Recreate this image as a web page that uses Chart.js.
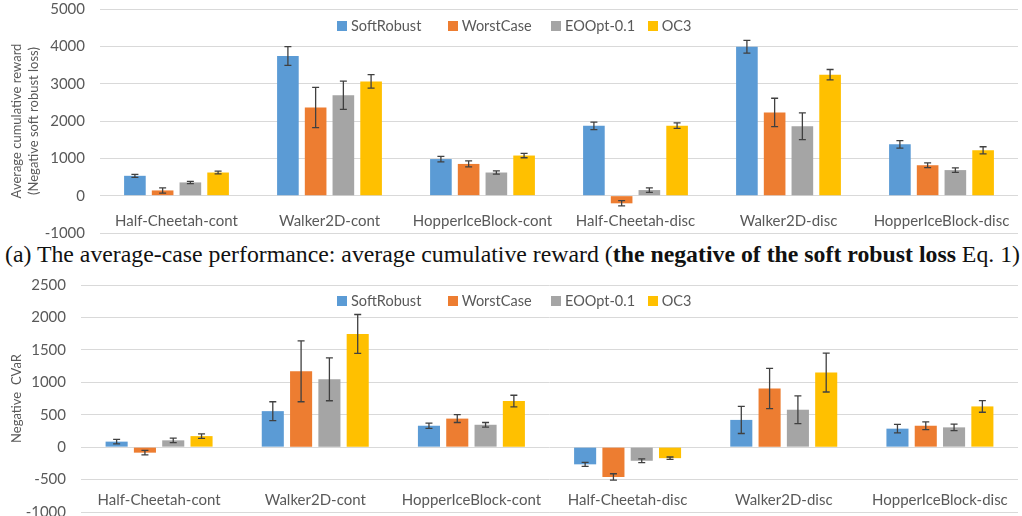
<!DOCTYPE html>
<html>
<head>
<meta charset="utf-8">
<script src="https://cdn.jsdelivr.net/npm/chart.js@4.4.1/dist/chart.umd.min.js"></script>
<style>
  body { margin: 0; background: #fff; width: 1022px; height: 516px; overflow: hidden; position: relative; }
  .wrap { position: absolute; left: 0; width: 1022px; z-index: 2; }
  #wrapTop { top: -15px; height: 272px; }
  #wrapBot { top: 261px; height: 275px; }
  .legend { position: absolute; left: 337px; display: flex; align-items: center; z-index: 3;
            font-family: Lato, sans-serif; font-size: 14.5px; color: #595959; white-space: nowrap; }
  .legend span.sw { display: inline-block; width: 10px; height: 10px; margin-right: 4px; }
  .legend span.it { display: flex; align-items: center; }
  #legTop { top: 17px; }
  #legBot { top: 292px; }
  #caption { position: absolute; left: 5px; top: 242px; z-index: 1; font-family: "Liberation Serif", serif;
             font-size: 24px; line-height: 24px; color: #111; white-space: nowrap; transform-origin: 0 0; }
</style>
</head>
<body>
<div id="caption">(a) The average-case performance: average cumulative reward (<b>the negative of the soft robust loss</b> Eq. 1)</div>
<div class="wrap" id="wrapTop"><canvas id="chartTop"></canvas></div>
<div class="wrap" id="wrapBot"><canvas id="chartBot"></canvas></div>
<div class="legend" id="legTop"></div>
<div class="legend" id="legBot"></div>
<script>
const categories = ['Half-Cheetah-cont', 'Walker2D-cont', 'HopperIceBlock-cont', 'Half-Cheetah-disc', 'Walker2D-disc', 'HopperIceBlock-disc'];
const seriesNames = ['SoftRobust', 'WorstCase', 'EOOpt-0.1', 'OC3'];
const seriesColors = ['#5B9BD5', '#ED7D31', '#A5A5A5', '#FFC000'];

// (a) average cumulative reward
const rewardSoftRobust = [532, 3740, 980, 1870, 3990, 1375];
const rewardWorstCase  = [140, 2360, 850, -205, 2230, 815];
const rewardEOOpt      = [355, 2690, 620, 150, 1860, 685];
const rewardOC3        = [620, 3060, 1075, 1875, 3240, 1215];
const rewardErrSoftRobust = [40, 250, 75, 100, 170, 100];
const rewardErrWorstCase  = [70, 540, 80, 70, 380, 65];
const rewardErrEOOpt      = [30, 380, 45, 60, 360, 60];
const rewardErrOC3        = [35, 180, 60, 75, 140, 95];

// negative CVaR
const cvarSoftRobust = [85, 555, 330, -265, 420, 285];
const cvarWorstCase  = [-85, 1170, 440, -460, 905, 330];
const cvarEOOpt      = [105, 1045, 345, -210, 577, 305];
const cvarOC3        = [170, 1745, 710, -170, 1150, 628];
const cvarErrSoftRobust = [35, 145, 40, 30, 210, 65];
const cvarErrWorstCase  = [35, 470, 60, 50, 310, 60];
const cvarErrEOOpt      = [35, 330, 35, 30, 215, 50];
const cvarErrOC3        = [35, 300, 90, 18, 300, 90];

const rewardTicks = { min: -1000, max: 5000, step: 1000 };
const cvarTicks = { min: -1000, max: 2500, step: 500 };

const textColor = '#595959';
const gridColor = '#D9D9D9';
const axisFont = 'Lato';
const legendItemWidths = [110.7, 103.3, 96.7, 45];

// error bars, drawn on top of the bars
const errorBars = {
  id: 'errorBars',
  afterDatasetsDraw(chart) {
    const ctx = chart.ctx;
    const y = chart.scales.y;
    ctx.save();
    ctx.strokeStyle = '#404040';
    ctx.lineWidth = 1.3;
    chart.data.datasets.forEach((ds, i) => {
      const meta = chart.getDatasetMeta(i);
      meta.data.forEach((bar, j) => {
        const v = ds.data[j], e = ds.errors[j];
        const y1 = y.getPixelForValue(v + e), y2 = y.getPixelForValue(v - e);
        ctx.beginPath();
        ctx.moveTo(bar.x, y1); ctx.lineTo(bar.x, y2);
        ctx.moveTo(bar.x - 3.5, y1); ctx.lineTo(bar.x + 3.5, y1);
        ctx.moveTo(bar.x - 3.5, y2); ctx.lineTo(bar.x + 3.5, y2);
        ctx.stroke();
      });
    });
    ctx.restore();
  }
};

// category labels sit inside the plot, just above the bottom gridline;
// the bottom gridline and its tick label are drawn here too
const innerLabels = {
  id: 'innerLabels',
  afterDraw(chart) {
    const ctx = chart.ctx;
    const x = chart.scales.x;
    const y = chart.scales.y;
    const area = chart.chartArea;
    const py = y.getPixelForValue(y.min);
    ctx.save();
    const yb = Math.round(py - 0.5) + 0.5;
    ctx.strokeStyle = gridColor;
    ctx.lineWidth = 1;
    ctx.beginPath();
    ctx.moveTo(area.left, yb); ctx.lineTo(area.right, yb);
    ctx.stroke();
    ctx.fillStyle = textColor;
    ctx.font = '15px ' + axisFont;
    ctx.textBaseline = 'middle';
    ctx.textAlign = 'right';
    ctx.fillText(String(y.min), area.left - 15, py);
    ctx.textAlign = 'center';
    chart.data.labels.forEach((lab, j) => {
      ctx.fillText(lab, x.getPixelForValue(j), area.bottom - 12);
    });
    ctx.restore();
  }
};

function makeChart(id, values, errors, ticks, title, axisWidth) {
  return new Chart(document.getElementById(id), {
    type: 'bar',
    data: {
      labels: categories,
      datasets: seriesNames.map((name, i) => ({
        label: name,
        data: values[i],
        errors: errors[i],
        backgroundColor: seriesColors[i],
        categoryPercentage: 0.725,
        barPercentage: 0.78
      }))
    },
    options: {
      responsive: true,
      maintainAspectRatio: false,
      animation: false,
      layout: { padding: { left: 0, right: 4, top: 0, bottom: 0 } },
      plugins: { legend: { display: false }, tooltip: { enabled: false } },
      scales: {
        x: { display: false },
        y: {
          min: ticks.min,
          max: ticks.max,
          afterFit(scale) { scale.width = axisWidth; },
          grid: { color: gridColor, lineWidth: 1, drawTicks: false },
          border: { display: false },
          ticks: { stepSize: ticks.step, padding: 15, color: textColor, autoSkip: false,
                   font: { family: axisFont, size: 15 },
                   callback: v => (v === ticks.min ? '' : String(v)) },
          title: { display: true, text: title, color: textColor, padding: { top: 8, bottom: 0 },
                   font: { family: axisFont, size: 13, lineHeight: 1.3 } }
        }
      }
    },
    plugins: [errorBars, innerLabels]
  });
}

makeChart('chartTop',
  [rewardSoftRobust, rewardWorstCase, rewardEOOpt, rewardOC3],
  [rewardErrSoftRobust, rewardErrWorstCase, rewardErrEOOpt, rewardErrOC3],
  rewardTicks, ['Average cumulative reward', '(Negative soft robust loss)'], 100);

makeChart('chartBot',
  [cvarSoftRobust, cvarWorstCase, cvarEOOpt, cvarOC3],
  [cvarErrSoftRobust, cvarErrWorstCase, cvarErrEOOpt, cvarErrOC3],
  cvarTicks, 'Negative  CVaR', 81);

// html legends
['legTop', 'legBot'].forEach(id => {
  const el = document.getElementById(id);
  seriesNames.forEach((name, i) => {
    const it = document.createElement('span');
    it.className = 'it';
    it.style.width = legendItemWidths[i] + 'px';
    it.innerHTML = '<span class="sw" style="background:' + seriesColors[i] + '"></span>' + name;
    el.appendChild(it);
  });
});

// stretch caption to the width used in the figure
const cap = document.getElementById('caption');
const w = cap.getBoundingClientRect().width;
cap.style.transform = 'scaleX(' + (1015 / w) + ')';
</script>
</body>
</html>
